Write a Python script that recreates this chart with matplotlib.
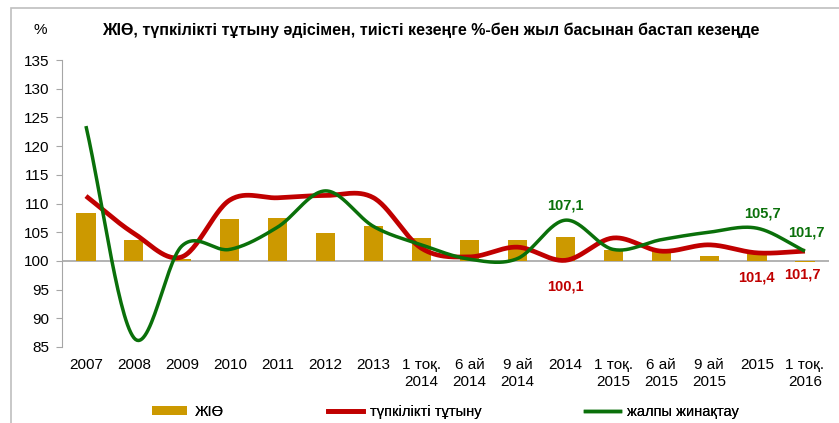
import numpy as np
import matplotlib
matplotlib.use("Agg")
import matplotlib.pyplot as plt
from matplotlib.patches import Rectangle, Patch
from matplotlib.lines import Line2D

plt.rcParams['font.family'] = ['Liberation Sans', 'DejaVu Sans']

categories = ["2007", "2008", "2009", "2010", "2011", "2012", "2013",
              "1 тоқ.\n2014", "6 ай\n2014", "9 ай\n2014", "2014",
              "1 тоқ.\n2015", "6 ай\n2015", "9 ай\n2015", "2015", "1 тоқ.\n2016"]
gdp = [108.4, 103.7, 100.3, 107.3, 107.4, 104.9, 106.1,
       104.0, 103.6, 103.7, 104.2, 101.9, 101.8, 100.9, 101.2, 99.8]
consumption = [111.3, 104.8, 100.7, 110.6, 111.0, 111.4, 111.0,
               102.2, 100.7, 102.4, 100.1, 104.0, 101.7, 102.8, 101.4, 101.7]
accumulation = [123.5, 86.6, 102.6, 102.0, 105.9, 112.2, 106.0,
                102.8, 100.3, 100.4, 107.1, 102.0, 103.7, 105.0, 105.7, 101.7]

title = "ЖІӨ, түпкілікті тұтыну әдісімен, тиісті кезеңге %-бен жыл басынан бастап кезеңде"
legend_labels = ["ЖІӨ", "түпкілікті тұтыну", "жалпы жинақтау"]

BAR = "#CC9900"
RED = "#C00000"
GREEN = "#0A700A"
GRAY = "#A6A6A6"


def smooth(y, n=30):
    """Catmull-Rom smoothing through the points (like Excel smoothed lines)."""
    y = np.asarray(y, float)
    x = np.arange(len(y), dtype=float)
    px = np.concatenate([[2 * x[0] - x[1]], x, [2 * x[-1] - x[-2]]])
    py = np.concatenate([[2 * y[0] - y[1]], y, [2 * y[-1] - y[-2]]])
    xs, ys = [], []
    for i in range(1, len(px) - 2):
        t = np.linspace(0, 1, n, endpoint=(i == len(px) - 3))
        for arr, out in ((px, xs), (py, ys)):
            p0, p1, p2, p3 = arr[i - 1], arr[i], arr[i + 1], arr[i + 2]
            out.append(0.5 * ((2 * p1) + (-p0 + p2) * t +
                              (2 * p0 - 5 * p1 + 4 * p2 - p3) * t ** 2 +
                              (-p0 + 3 * p1 - 3 * p2 + p3) * t ** 3))
    return np.concatenate(xs), np.concatenate(ys)


fig = plt.figure(figsize=(8.39, 4.23), dpi=100)
ax = fig.add_axes([0.0739, 0.1797, 0.9141, 0.6783])

x = np.arange(len(categories))
ax.bar(x, np.array(gdp) - 100, bottom=100, width=0.4, color=BAR, zorder=2)
ax.axhline(100, color=GRAY, lw=1.2, zorder=1)

sx, sy = smooth(consumption)
ax.plot(sx, sy, color=RED, lw=3.4, solid_capstyle='butt', zorder=3)
sx, sy = smooth(accumulation)
ax.plot(sx, sy, color=GREEN, lw=2.5, solid_capstyle='butt', zorder=4)

ax.set_xlim(-0.5, len(categories) - 0.5)
ax.set_ylim(85, 135)
ax.set_yticks(np.arange(85, 136, 5))
ax.set_xticks(x)
ax.set_xticklabels(categories, fontsize=11, linespacing=1.3)
ax.tick_params(axis='x', length=0, pad=8)
ax.tick_params(axis='y', length=4, color=GRAY, labelsize=11, pad=5)
for s in ("top", "right", "bottom"):
    ax.spines[s].set_visible(False)
ax.spines["left"].set_color(GRAY)

lab = dict(fontsize=10.5, fontweight='bold', ha='center', va='center',
           textcoords='offset points')
ax.annotate("107,1", (10, accumulation[10]), xytext=(0, 10.8), color=GREEN, **lab)
ax.annotate("100,1", (10, consumption[10]), xytext=(0, -18.7), color=RED, **lab)
ax.annotate("105,7", (14, accumulation[14]), xytext=(3.6, 10.8), color=GREEN, **lab)
ax.annotate("101,7", (15, accumulation[15]), xytext=(0.7, 13.7), color=GREEN, **lab)
ax.annotate("101,4", (14, consumption[14]), xytext=(-0.7, -17.5), color=RED, **lab)
ax.annotate("101,7", (15, consumption[15]), xytext=(-2, -16.5), color=RED, **lab)

fig.text(0.513, 0.929, title, fontsize=11.5, fontweight='bold',
         ha='center', va='center')
fig.text(0.048, 0.929, "%", fontsize=11, ha='center', va='center')

handles = [Patch(facecolor=BAR, edgecolor='none'),
           Line2D([], [], color=RED, lw=3.4),
           Line2D([], [], color=GREEN, lw=2.5)]
xpos = [152 / 839, 328 / 839, 585 / 839]
for h, l, xp in zip(handles, legend_labels, xpos):
    lg = fig.legend([h], [l], loc='center left', bbox_to_anchor=(xp, 0.026),
                    frameon=False, fontsize=10.5, handlelength=2.4,
                    handleheight=0.6, handletextpad=0.5, borderpad=0,
                    borderaxespad=0)
    fig.add_artist(lg)

fig.add_artist(Rectangle((11 / 839, -0.1), 1.2, 1.1 - 8 / 423 + 0.0,
                         transform=fig.transFigure, fill=False,
                         edgecolor="#BFBFBF", lw=1.2))

fig.savefig("out.png", dpi=100)
